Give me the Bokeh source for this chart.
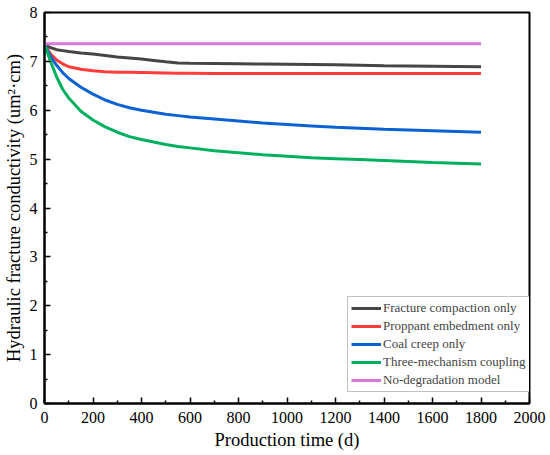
from bokeh.plotting import figure
from bokeh.models import Range1d, FixedTicker, Legend, LegendItem
from bokeh.embed import file_html
from bokeh.resources import INLINE

days = [0, 25, 50, 75, 100, 150, 200, 250, 300, 350, 400, 450, 500, 550, 600,
        700, 800, 900, 1000, 1100, 1200, 1300, 1400, 1500, 1600, 1700, 1800]

compaction = [7.35, 7.28, 7.24, 7.22, 7.20, 7.17, 7.15, 7.12, 7.09, 7.07, 7.05, 7.02, 6.99, 6.965, 6.96,
              6.955, 6.95, 6.945, 6.94, 6.935, 6.93, 6.92, 6.91, 6.905, 6.90, 6.895, 6.89]
embedment = [7.35, 7.15, 7.03, 6.95, 6.89, 6.84, 6.81, 6.79, 6.78, 6.775, 6.77, 6.765, 6.76, 6.755, 6.755,
             6.75, 6.75, 6.75, 6.75, 6.75, 6.75, 6.75, 6.75, 6.75, 6.75, 6.75, 6.75]
creep = [7.35, 7.10, 6.92, 6.77, 6.65, 6.47, 6.33, 6.21, 6.12, 6.05, 6.00, 5.96, 5.92, 5.89, 5.86,
         5.82, 5.78, 5.74, 5.71, 5.68, 5.65, 5.63, 5.61, 5.595, 5.58, 5.565, 5.55]
coupling = [7.35, 7.00, 6.68, 6.43, 6.25, 5.98, 5.80, 5.66, 5.55, 5.46, 5.40, 5.35, 5.30, 5.26, 5.23,
            5.17, 5.13, 5.09, 5.06, 5.03, 5.01, 4.99, 4.97, 4.95, 4.93, 4.915, 4.90]
no_degradation = [7.36] * len(days)

series_names = ["Fracture compaction only", "Proppant embedment only", "Coal creep only",
                "Three-mechanism coupling", "No-degradation model"]
series_colors = ["#454545", "#ff3b3b", "#0a62d2", "#00b05e", "#d679dc"]

x_ticks = list(range(0, 2001, 200))
y_ticks = list(range(0, 9))

FONT = "Liberation Serif"

p = figure(width=550, height=455, output_backend="svg", toolbar_location=None,
           x_range=Range1d(0, 2000), y_range=Range1d(0, 8),
           min_border_left=44, min_border_right=21, min_border_top=12, min_border_bottom=52)
p.background_fill_color = "white"
p.border_fill_color = "white"
p.grid.visible = False
p.outline_line_color = "black"
p.outline_line_width = 2

p.xaxis.ticker = FixedTicker(ticks=x_ticks, minor_ticks=list(range(100, 2000, 200)))
p.yaxis.ticker = FixedTicker(ticks=y_ticks, minor_ticks=[i + 0.5 for i in range(8)])

for ax in (p.xaxis, p.yaxis):
    ax.axis_line_width = 2
    ax.axis_line_color = "black"
    ax.major_tick_in = 6
    ax.major_tick_out = 0
    ax.minor_tick_in = 3
    ax.minor_tick_out = 0
    ax.major_tick_line_width = 1.5
    ax.minor_tick_line_width = 1.5
    ax.major_label_text_font = FONT
    ax.major_label_text_font_size = "16px"
    ax.major_label_text_color = "black"
    ax.axis_label_text_font = FONT
    ax.axis_label_text_font_size = "18.5px"
    ax.axis_label_text_font_style = "normal"
    ax.axis_label_text_color = "black"

p.xaxis.axis_label = "Production time (d)"
p.xaxis.major_label_standoff = 8
p.xaxis.axis_label_standoff = 4
p.yaxis.axis_label = "Hydraulic fracture conductivity (um\u00b2\u00b7cm)"
p.yaxis.major_label_standoff = 7
p.yaxis.axis_label_standoff = 3

items = []
for name, ys, col in zip(series_names, [compaction, embedment, creep, coupling, no_degradation], series_colors):
    r = p.line(days, ys, line_color=col, line_width=3)
    items.append(LegendItem(label=name, renderers=[r]))

legend = Legend(items=items, location=(303, 11))
legend.label_text_font = FONT
legend.label_text_font_size = "13px"
legend.label_height = 14
legend.glyph_height = 14
legend.glyph_width = 30
legend.label_width = 141
legend.label_standoff = 2
legend.spacing = 2
legend.padding = 3
legend.margin = 0
legend.border_line_color = "#888888"
legend.border_line_width = 1
legend.background_fill_alpha = 1
p.add_layout(legend, "center")

open("out.html", "w").write(file_html(p, INLINE))
